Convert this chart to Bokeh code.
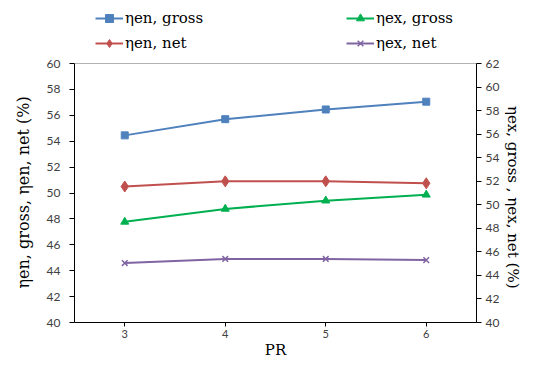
from bokeh.plotting import figure
from bokeh.models import Range1d, LinearAxis, FixedTicker, Legend, LegendItem, BoxAnnotation, Title
from bokeh.embed import file_html
from bokeh.resources import INLINE

pr = [3, 4, 5, 6]
en_gross = [54.45, 55.7, 56.45, 57.05]
en_net = [50.5, 50.9, 50.9, 50.75]
ex_gross = [48.55, 49.65, 50.35, 50.85]
ex_net = [45.05, 45.4, 45.4, 45.3]

left_ticks = [40, 42, 44, 46, 48, 50, 52, 54, 56, 58, 60]
right_ticks = [40, 42, 44, 46, 48, 50, 52, 54, 56, 58, 60, 62]
left_lim = (40, 60)
right_lim = (40, 62)
x_lim = (2.5, 6.5)

left_title = "ηen, gross, ηen, net  (%)"
right_title = "ηex, gross , ηex, net (%)"
x_title = "PR"

BLUE = "#4F81BD"
RED = "#C0504D"
GREEN = "#00B050"
PURPLE = "#8064A2"
SERIF = "DejaVu Serif"
SANS = "Lato"

# layout in pixels: plot area 402 x 259, with 63 px above it (inside the frame) for the legend
FW, PH, TOP = 402, 259, 63
FH = PH + TOP
l_top = left_lim[1] + TOP * (left_lim[1] - left_lim[0]) / PH
r_top = right_lim[1] + TOP * (right_lim[1] - right_lim[0]) / PH

p = figure(frame_width=FW, frame_height=FH, output_backend="svg", toolbar_location=None,
           x_range=Range1d(*x_lim), y_range=Range1d(left_lim[0], l_top),
           min_border_left=72, min_border_right=43, min_border_top=0, min_border_bottom=35)
p.extra_y_ranges = {"ex": Range1d(right_lim[0], r_top)}
p.xgrid.visible = False
p.ygrid.visible = False
p.outline_line_color = None
p.background_fill_color = "white"
p.border_fill_color = "white"

p.add_layout(BoxAnnotation(left=x_lim[0], right=x_lim[1], bottom=left_lim[0], top=left_lim[1],
                           fill_alpha=0, line_color="#000000", line_width=1))

r1l = p.line(pr, en_gross, line_color=BLUE, line_width=2)
r1m = p.scatter(pr, en_gross, marker="square", size=7, fill_color=BLUE, line_color=BLUE)
r2l = p.line(pr, en_net, line_color=RED, line_width=2)
r2m = p.scatter(pr, en_net, marker="diamond", size=11, fill_color=RED, line_color=RED)
r3l = p.line(pr, ex_gross, line_color=GREEN, line_width=2, y_range_name="ex")
r3m = p.scatter(pr, ex_gross, marker="triangle", size=8, fill_color=GREEN, line_color=GREEN, y_range_name="ex")
r4l = p.line(pr, ex_net, line_color=PURPLE, line_width=2, y_range_name="ex")
r4m = p.scatter(pr, ex_net, marker="x", size=8, line_color=PURPLE, line_width=1.5, y_range_name="ex")

right_axis = LinearAxis(y_range_name="ex")
p.add_layout(right_axis, "right")

for ax in p.axis:
    ax.axis_line_color = "#000000"
    ax.major_tick_line_color = "#000000"
    ax.major_tick_out = 5
    ax.major_tick_in = 0
    ax.minor_tick_line_color = None
    ax.major_label_text_font = SANS
    ax.major_label_text_font_size = "12px"
    ax.major_label_text_color = "#404040"
    ax.axis_label_text_font = SERIF
    ax.axis_label_text_font_style = "normal"
    ax.axis_label_text_color = "#000000"
    ax.axis_label_text_font_size = "15px"

p.xaxis.ticker = FixedTicker(ticks=pr)
p.xaxis.axis_label = x_title
p.xaxis.major_tick_out = 4
p.xaxis.major_label_standoff = 3
p.xaxis.axis_label_standoff = 0
p.xaxis.major_label_text_font_size = "11px"
p.xaxis.axis_label_text_font_size = "15px"

p.yaxis[0].ticker = FixedTicker(ticks=left_ticks)
p.yaxis[0].bounds = left_lim
p.yaxis[0].major_label_standoff = 9

right_axis.ticker = FixedTicker(ticks=right_ticks)
right_axis.bounds = right_lim
right_axis.major_label_standoff = 4

# axis titles centred on the plot area (below the legend strip)
p.add_layout(Title(text=left_title, align="left", offset=34, standoff=22,
                   text_font=SERIF, text_font_size="16px", text_font_style="normal",
                   text_color="#000000"), "left")
p.add_layout(Title(text=right_title, align="right", offset=34, standoff=2,
                   text_font=SERIF, text_font_size="15px", text_font_style="normal",
                   text_color="#000000"), "right")

legend = Legend(items=[
    LegendItem(label="ηen, gross", renderers=[r1l, r1m]),
    LegendItem(label="ηen, net", renderers=[r2l, r2m]),
    LegendItem(label="ηex, gross", renderers=[r3l, r3m]),
    LegendItem(label="ηex, net", renderers=[r4l, r4m]),
], ncols=2, location=(21, FH - 53), padding=0, margin=0, spacing=5,
    glyph_width=28, glyph_height=20, label_standoff=2, label_width=216,
    label_text_font=SERIF, label_text_font_size="15px", label_text_color="#000000",
    border_line_color=None, background_fill_alpha=0)
p.add_layout(legend, "center")

open("out.html", "w").write(file_html(p, INLINE))
